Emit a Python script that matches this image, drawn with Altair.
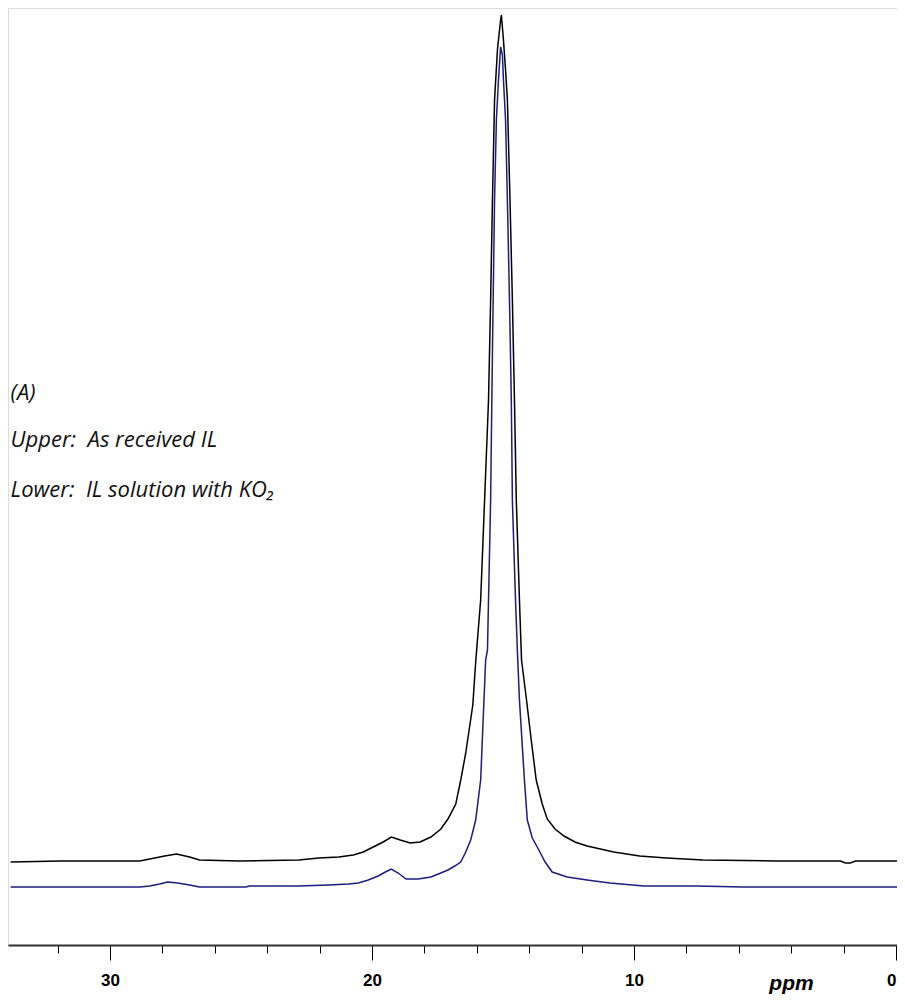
import altair as alt
import pandas as pd

# Upper trace (as received IL): chemical shift (ppm) and displayed intensity
upper_ppm = [33.79, 31.89, 28.86, 28.48, 27.91, 27.46, 26.96, 26.58, 25.07, 22.79,
             22.03, 21.27, 20.71, 20.33, 19.95, 19.57, 19.26, 18.92, 18.54, 18.16,
             17.75, 17.37, 17.10, 16.80, 16.61, 16.42, 16.15, 16.04, 15.85, 15.70,
             15.55, 15.47, 15.40, 15.32, 15.21, 15.09, 15.06, 14.98, 14.90, 14.83,
             14.73, 14.64, 14.56, 14.49, 14.37, 14.29, 14.10, 13.92, 13.73, 13.50,
             13.31, 13.01, 12.67, 12.25, 11.79, 10.77, 9.78, 8.76, 7.36, 4.59,
             2.12, 1.93, 1.74, 1.55, 0.30, -0.04]
upper_int = [83, 84, 84, 86, 89, 91, 88, 85, 84, 85,
             87, 88, 90, 93, 98, 103, 108, 105, 102, 103,
             108, 116, 126, 141, 165, 192, 240, 283, 345, 445,
             545, 645, 745, 845, 895, 925, 930, 905, 875, 845,
             745, 645, 545, 445, 345, 285, 245, 205, 165, 141,
             126, 116, 109, 103, 99, 93, 89, 87, 85, 84,
             84, 82, 82, 84, 84, 84]

# Lower trace (IL solution with KO2)
lower_ppm = [33.79, 28.86, 28.48, 28.10, 27.80, 27.42, 26.96, 26.58, 24.80, 24.69,
             22.79, 21.65, 20.89, 20.52, 20.14, 19.76, 19.49, 19.26, 19.00, 18.70,
             18.24, 17.75, 17.37, 17.10, 16.84, 16.61, 16.42, 16.23, 16.04, 15.85,
             15.66, 15.59, 15.47, 15.40, 15.32, 15.25, 15.17, 15.09, 15.02, 14.98,
             14.90, 14.83, 14.75, 14.68, 14.64, 14.52, 14.45, 14.37, 14.18, 14.07,
             13.88, 13.69, 13.39, 13.12, 12.55, 11.79, 10.92, 9.63, 7.62, 5.84,
             -0.04]
lower_int = [58, 58, 59, 61, 63, 62, 60, 58, 58, 59,
             59, 60, 61, 62, 65, 69, 73, 76, 72, 66,
             66, 68, 72, 75, 79, 83, 93, 105, 125, 165,
             285, 295, 445, 595, 745, 825, 865, 898, 890, 865,
             825, 745, 645, 545, 445, 345, 295, 245, 165, 125,
             107, 98, 83, 73, 68, 65, 62, 59, 59, 58,
             58]

tick_values = list(range(0, 34, 2))

notes = ["(A)", "Upper:\u00a0\u00a0As received IL", "Lower:\u00a0\u00a0IL solution with KO\u2082"]
note_ppm = [33.79, 33.79, 33.79]
note_int = [552, 505, 455]

df = pd.concat([
    pd.DataFrame({"ppm": upper_ppm, "intensity": upper_int, "trace": "upper", "order": range(len(upper_ppm))}),
    pd.DataFrame({"ppm": lower_ppm, "intensity": lower_int, "trace": "lower", "order": range(len(lower_ppm))}),
])
notes_df = pd.DataFrame({"ppm": note_ppm, "intensity": note_int, "text": notes})

xscale = alt.Scale(domain=[33.89, -0.04], nice=False, zero=False)
yscale = alt.Scale(domain=[0, 937], nice=False, zero=False)

xaxis = alt.Axis(
    values=tick_values,
    labelExpr="datum.value % 10 === 0 ? datum.label : ''",
    grid=False,
    domainColor="#333333",
    domainWidth=2,
    tickColor="#000000",
    tickWidth=1,
    tickSize={"condition": {"test": "datum.value % 10 === 0", "value": 15}, "value": 8},
    labelFont="Liberation Sans",
    labelFontWeight="bold",
    labelFontSize=17,
    labelColor="#000000",
    labelPadding=12,
    labelOverlap=False,
    labelFlush=False,
    labelAlign={"condition": {"test": "datum.value === 0", "value": "right"}, "value": "center"},
    title="ppm",
    titleFont="Liberation Sans",
    titleFontStyle="italic",
    titleFontWeight="bold",
    titleFontSize=21,
    titleColor="#000000",
    titleX=783,
    titleY=44,
    titleAlign="center",
    titleBaseline="alphabetic",
)

lines = alt.Chart(df).mark_line(strokeWidth=1.5).encode(
    x=alt.X("ppm:Q", scale=xscale, axis=xaxis),
    y=alt.Y("intensity:Q", scale=yscale, axis=None),
    color=alt.Color("trace:N", scale=alt.Scale(domain=["upper", "lower"], range=["#000000", "#1c1c80"]), legend=None),
    order="order:Q",
)

text = alt.Chart(notes_df).mark_text(
    align="left", baseline="middle", font="Open Sans", fontStyle="italic", fontSize=22, color="#111111"
).encode(
    x=alt.X("ppm:Q", scale=xscale),
    y=alt.Y("intensity:Q", scale=yscale),
    text="text:N",
)

chart = alt.layer(lines, text).properties(
    width=889,
    height=937,
    autosize=alt.AutoSizeParams(type="none"),
    padding={"left": 0, "top": 0, "right": 0, "bottom": 50},
).configure_view(strokeWidth=0).configure(background="white")

chart.save("out.html", embed_options={"renderer": "svg", "actions": False})
